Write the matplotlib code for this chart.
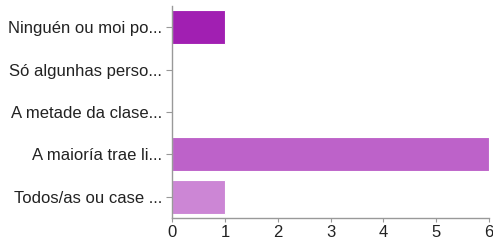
import matplotlib.pyplot as plt

categories = ['Ninguén ou moi po...', 'Só algunhas perso...', 'A metade da clase...',
              'A maioría trae li...', 'Todos/as ou case ...']
values = [1, 0, 0, 6, 1]
colors = ['#a11fb2', '#b040c0', '#b452c4', '#bd62c9', '#cc86d5']

plt.rcParams['font.family'] = ['Liberation Sans', 'DejaVu Sans']

fig = plt.figure(figsize=(4.93, 2.4), dpi=100)
ax = fig.add_axes([0.349, 0.092, 0.643, 0.883])

y = list(range(len(categories)))
ax.barh(y, values, height=0.8, color=colors, edgecolor='white', linewidth=0.8)
ax.set_yticks(y)
ax.set_yticklabels(categories, fontsize=12, color='#222222')
ax.set_ylim(len(categories) - 0.5, -0.5)
ax.set_xlim(0, 6)
ax.set_xticks(range(0, 7))
ax.tick_params(axis='x', labelsize=12, colors='#222222', length=3, color='#999999', pad=2)
ax.tick_params(axis='y', length=4, color='#999999', pad=3)

for side in ['top', 'right']:
    ax.spines[side].set_visible(False)
for side in ['left', 'bottom']:
    ax.spines[side].set_color('#999999')
    ax.spines[side].set_linewidth(1)

fig.savefig('out.png', dpi=100)
